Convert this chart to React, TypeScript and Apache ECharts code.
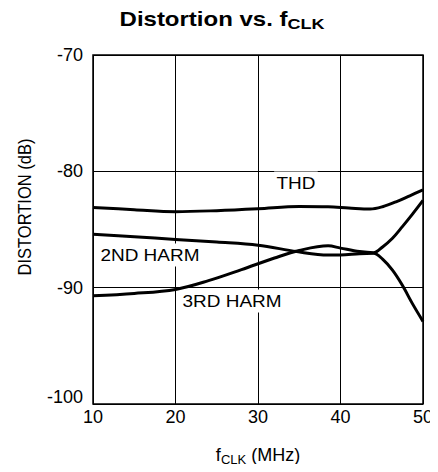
import React, { useEffect, useRef } from "react";
import * as echarts from "echarts";

const xTicks = [10, 20, 30, 40, 50];
const yTicks = [-100, -90, -80, -70];

const thd: [number, number][] = [
  [10, -83.1], [15, -83.3], [20, -83.47], [25, -83.38], [30, -83.22], [35, -83.02],
  [38.5, -83.05], [41, -83.15], [43.6, -83.24], [45.1, -83.04], [46.8, -82.6],
  [48.4, -82.1], [50, -81.6],
];
const harm2: [number, number][] = [
  [10, -85.4], [15, -85.62], [20, -85.85], [25, -86.08], [30, -86.35], [34.7, -86.9],
  [38.5, -87.2], [40, -87.2], [42.3, -87.08], [44, -87.05], [45.1, -87.55], [46.3, -88.5],
  [47.5, -89.8], [48.7, -91.35], [50, -92.9],
];
const harm3: [number, number][] = [
  [10, -90.7], [15, -90.5], [20, -90.15], [24, -89.4], [28, -88.45], [32, -87.45],
  [35, -86.8], [38.5, -86.4], [40, -86.6], [42.3, -86.9], [44, -87.0], [45.1, -86.5],
  [46.3, -85.75], [47.5, -84.75], [48.7, -83.7], [50, -82.5],
];

const labels: { text: string; x: number; y: number }[] = [
  { text: "THD", x: 34.6, y: -81.0 },
  { text: "2ND HARM", x: 16.9, y: -87.2 },
  { text: "3RD HARM", x: 26.85, y: -91.15 },
];

const FONT = "'Liberation Sans', Arial, Helvetica, sans-serif";

export default function App() {
  const ref = useRef<HTMLDivElement>(null);
  useEffect(() => {
    if (!ref.current) return;
    const chart = echarts.init(ref.current, null, { renderer: "svg" });
    const lineSeries = (name: string, data: [number, number][]) => ({
      name,
      type: "line",
      data,
      smooth: 0.35,
      showSymbol: false,
      symbol: "none",
      lineStyle: { color: "#000", width: 3 },
      z: 5,
    });
    chart.setOption({
      animation: false,
      backgroundColor: "#fff",
      grid: { left: 93, right: 15, top: 55, bottom: 68, show: true, borderColor: "#000", borderWidth: 1.5 },
      xAxis: {
        type: "value",
        min: 10,
        max: 50,
        interval: 10,
        axisLine: { show: false },
        axisTick: { show: false },
        splitLine: { show: true, lineStyle: { color: "#000", width: 1 } },
        axisLabel: {
          color: "#000",
          fontFamily: FONT,
          fontSize: 18,
          margin: 4,
          formatter: (v: number) => (xTicks.includes(v) ? String(v) : ""),
        },
        name: "f{s|CLK} (MHz)",
        nameLocation: "middle",
        nameGap: 40,
        nameTextStyle: {
          color: "#000",
          fontFamily: FONT,
          fontSize: 18,
          rich: { s: { fontFamily: FONT, fontSize: 13, color: "#000", padding: [9, 0, 0, 0] } },
        },
      },
      yAxis: {
        type: "value",
        min: -100,
        max: -70,
        interval: 10,
        axisLine: { show: false },
        axisTick: { show: false },
        splitLine: { show: true, lineStyle: { color: "#000", width: 1 } },
        axisLabel: {
          color: "#000",
          fontFamily: FONT,
          fontSize: 18,
          margin: 10,
          formatter: (v: number) =>
            v === -100 ? "{lo|-100}" : yTicks.includes(v) ? String(v) : "",
          rich: { lo: { fontFamily: FONT, fontSize: 18, color: "#000", padding: [0, 0, 14, 0] } },
        },
      },
      series: [lineSeries("THD", thd), lineSeries("2ND HARM", harm2), lineSeries("3RD HARM", harm3)],
    });
    const g: any[] = labels.map((l) => {
      const p = chart.convertToPixel({ gridIndex: 0 }, [l.x, l.y]) as number[];
      return {
        type: "text",
        x: p[0],
        y: p[1],
        scaleX: 1.15,
        z: 3,
        style: {
          text: l.text,
          fontFamily: FONT,
          fontSize: 16.5,
          fill: "#000",
          align: "center",
          verticalAlign: "middle",
          backgroundColor: "#fff",
          padding: [3, 2, 3, 2],
        },
      };
    });
    g.push({
      type: "text",
      x: 25,
      y: 207,
      rotation: Math.PI / 2,
      scaleY: 1.15,
      style: {
        text: "DISTORTION (dB)",
        fontFamily: FONT,
        fontSize: 16.5,
        fill: "#000",
        align: "center",
        verticalAlign: "middle",
      },
    });
    g.push({
      type: "text",
      x: 222,
      y: 19,
      scaleX: 1.2,
      style: {
        text: "Distortion vs. f{s|CLK}",
        fontFamily: FONT,
        fontSize: 20,
        fontWeight: "bold",
        fill: "#000",
        align: "center",
        verticalAlign: "middle",
        rich: {
          s: { fontFamily: FONT, fontSize: 15, fontWeight: "bold", fill: "#000", padding: [10, 0, 0, 0] },
        },
      },
    });
    chart.setOption({ graphic: g });
    return () => chart.dispose();
  }, []);
  return <div ref={ref} style={{ width: 438, height: 472, margin: -8 }} />;
}
